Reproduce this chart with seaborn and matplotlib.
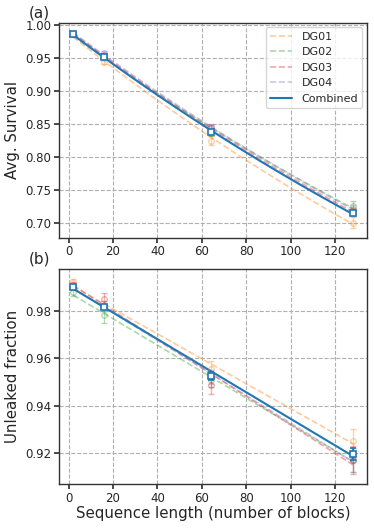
import numpy as np
import pandas as pd
import matplotlib
matplotlib.use("Agg")
import matplotlib.pyplot as plt
import seaborn as sns

# sequence lengths
lengths = [2, 16, 64, 128]
groups = ["DG01", "DG02", "DG03", "DG04"]
group_colors = ["tab:orange", "tab:green", "tab:red", "tab:purple"]

# (a) average survival per group
surv_dg01 = [0.986, 0.944, 0.824, 0.700]
surv_dg02 = [0.986, 0.952, 0.836, 0.725]
surv_dg03 = [0.986, 0.954, 0.843, 0.716]
surv_dg04 = [0.986, 0.957, 0.845, 0.720]
surv_comb = [0.986, 0.951, 0.837, 0.714]
surv_err_dg01 = [0.001, 0.004, 0.007, 0.008]
surv_err_dg02 = [0.001, 0.003, 0.005, 0.007]
surv_err_dg03 = [0.001, 0.003, 0.005, 0.006]
surv_err_dg04 = [0.001, 0.003, 0.005, 0.006]
surv_err_comb = [0.001, 0.002, 0.003, 0.003]

# (b) unleaked fraction per group
unl_dg01 = [0.9923, 0.9820, 0.9553, 0.9252]
unl_dg02 = [0.9878, 0.9783, 0.9510, 0.9170]
unl_dg03 = [0.9910, 0.9849, 0.9489, 0.9170]
unl_dg04 = [0.9900, 0.9820, 0.9520, 0.9170]
unl_comb = [0.9903, 0.9817, 0.9525, 0.9197]
unl_err_dg01 = [0.0012, 0.0020, 0.0035, 0.0050]
unl_err_dg02 = [0.0015, 0.0035, 0.0030, 0.0050]
unl_err_dg03 = [0.0012, 0.0025, 0.0040, 0.0060]
unl_err_dg04 = [0.0012, 0.0020, 0.0030, 0.0050]
unl_err_comb = [0.0008, 0.0010, 0.0015, 0.0025]

surv = [surv_dg01, surv_dg02, surv_dg03, surv_dg04]
surv_err = [surv_err_dg01, surv_err_dg02, surv_err_dg03, surv_err_dg04]
unl = [unl_dg01, unl_dg02, unl_dg03, unl_dg04]
unl_err = [unl_err_dg01, unl_err_dg02, unl_err_dg03, unl_err_dg04]

sns.set_theme(style="whitegrid")
plt.rcParams["font.family"] = ["DejaVu Sans"]
plt.rcParams["grid.linestyle"] = "--"
plt.rcParams["grid.color"] = "#b0b0b0"
plt.rcParams["grid.linewidth"] = 0.8
plt.rcParams["axes.edgecolor"] = "#333333"

fig, (ax1, ax2) = plt.subplots(2, 1, figsize=(3.74, 5.29), dpi=100)
fig.subplots_adjust(left=0.158, right=0.981, top=0.957, bottom=0.085, hspace=0.147)

xs = np.linspace(min(lengths), max(lengths), 100)


def fit_line(y, log=False):
    # exponential decay for survival, linear for leakage
    if log:
        b, a = np.polyfit(lengths, np.log(y), 1)
        return np.exp(a + b * xs)
    b, a = np.polyfit(lengths, y, 1)
    return a + b * xs


def draw(ax, vals, errs, comb, comb_err, log):
    for g, c, y, e in zip(groups, group_colors, vals, errs):
        sns.lineplot(x=xs, y=fit_line(y, log), ax=ax, color=c, alpha=0.4,
                     linestyle="--", lw=1.2, label=g)
        ax.errorbar(lengths, y, yerr=e, fmt="o", ms=4, mfc="none", mec=c,
                    ecolor=c, capsize=2.5, alpha=0.35, lw=1)
    sns.lineplot(x=xs, y=fit_line(comb, log), ax=ax, color="tab:blue", lw=1.5,
                 label="Combined")
    ax.errorbar(lengths, comb, yerr=comb_err, fmt="s", ms=4.5, mfc="white",
                mec="tab:blue", mew=1.2, ecolor="tab:blue", capsize=2.5, lw=1.2,
                zorder=5)
    ax.tick_params(axis="both", labelsize=8.5, length=3.5, pad=2, left=True,
                   bottom=True, color="#333333")
    for s in ax.spines.values():
        s.set_linewidth(1.0)


draw(ax1, surv, surv_err, surv_comb, surv_err_comb, True)
draw(ax2, unl, unl_err, unl_comb, unl_err_comb, False)

ax1.set_ylabel("Avg. Survival", fontsize=10.8, labelpad=4)
ax2.set_ylabel("Unleaked fraction", fontsize=10.8, labelpad=4)
ax2.set_xlabel("Sequence length (number of blocks)", fontsize=10.8, labelpad=1)
ax1.set_xticks([0, 20, 40, 60, 80, 100, 120])
ax2.set_xticks([0, 20, 40, 60, 80, 100, 120])
ax1.set_yticks([0.70, 0.75, 0.80, 0.85, 0.90, 0.95, 1.00])
ax2.set_yticks([0.92, 0.94, 0.96, 0.98])
ax1.yaxis.set_major_formatter(matplotlib.ticker.FormatStrFormatter("%.2f"))
ax2.yaxis.set_major_formatter(matplotlib.ticker.FormatStrFormatter("%.2f"))

ax1.legend(loc="upper right", fontsize=8, frameon=True, handlelength=2.0,
           borderaxespad=0.4)
ax2.legend_.remove()

ax1.text(-0.097, 1.012, "(a)", transform=ax1.transAxes, fontsize=11, va="bottom")
ax2.text(-0.097, 1.012, "(b)", transform=ax2.transAxes, fontsize=11, va="bottom")

plt.savefig("out.png", dpi=100)
